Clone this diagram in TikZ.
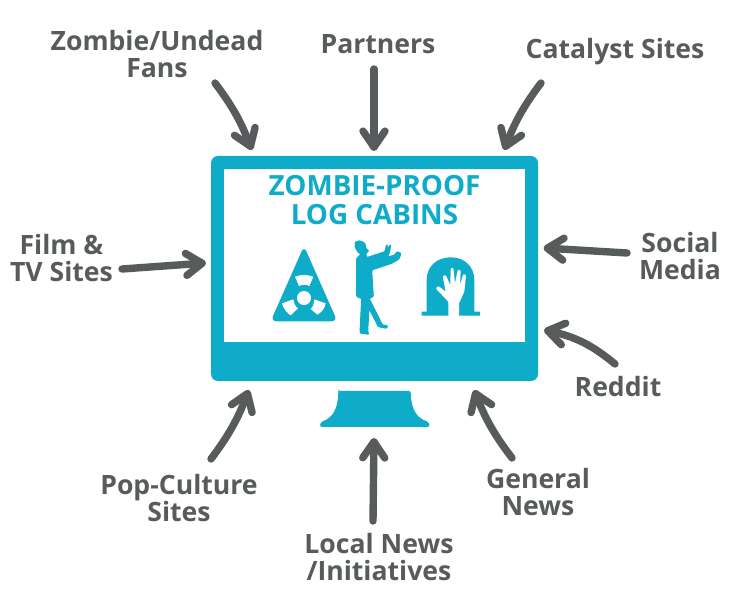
\documentclass[tikz,border=0pt]{standalone}
\usepackage{fontspec}
\setmainfont{Open Sans}
\usetikzlibrary{calc}
\definecolor{screenblue}{HTML}{0FACCA}
\definecolor{feedgray}{HTML}{575B5C}
\pgfarrowsdeclare{barb}{barb}{\pgfarrowsleftextend{-3pt}\pgfarrowsrightextend{3.7pt}}{%
 \pgfsetlinewidth{7.4pt}\pgfsetroundcap\pgfsetroundjoin
 \pgfpathmoveto{\pgfpoint{-16pt}{11pt}}
 \pgfpathlineto{\pgfpointorigin}
 \pgfpathlineto{\pgfpoint{-16pt}{-11pt}}
 \pgfusepathqstroke
}
\tikzset{
  source/.style={text=feedgray, font=\fontsize{26.6}{27}\selectfont\bfseries, align=center, inner sep=0pt},
  feed/.style={draw=feedgray, line width=7.4pt, line cap=round, line join=round, -barb},
  monitor/.style={fill=screenblue, inner sep=0pt},
  headline/.style={text=screenblue, font=\fontsize{27.8}{29}\selectfont\bfseries, align=center, inner sep=0pt}
}
\def\Feed#1#2#3{%
\draw[feed] #1 to[#3] (#2);
}
\begin{document}
\begin{tikzpicture}[x=1pt,y=-1pt]
\useasboundingbox (0,0) rectangle (750,593);
% monitor
\node (Monitor) [monitor, rounded corners=7pt, minimum width=327pt, minimum height=225pt] at (374.5,268.5) {};
\node (Screen) [fill=white, inner sep=0pt, minimum width=301pt, minimum height=173pt] at (374.5,255.5) {};
\fill[screenblue, rounded corners=2pt] (338.3,391) -- (410.7,391) .. controls (411,408) and (416,418) .. (429,422)
  -- (429.5,427) -- (320,427) -- (320.5,422) .. controls (333,418) and (338,408) .. (338.3,391) -- cycle;
\node (Title) [headline] at (374.5,200.5) {ZOMBIE-PROOF\\LOG CABINS};
% icons
\begin{scope}[shift={(260,230)},scale=1/3]
  \fill[screenblue, rounded corners=6pt] (132,48) -- (232,274) -- (32,274) -- cycle;
  \fill[white] (132,204) circle (21);
  \fill[white] (105,140) .. controls (125,133) and (140,133) .. (160,140) -- (148,168) .. controls (140,163) and (125,163) .. (117,168) -- cycle;
  \fill[white] (66,220) -- (100,208) .. controls (102,222) and (108,232) .. (114,235) -- (92,256) .. controls (80,248) and (70,236) .. (66,220) -- cycle;
  \fill[white] (197,220) -- (163,208) .. controls (162,222) and (158,232) .. (152,237) -- (172,254) .. controls (184,248) and (194,236) .. (197,220) -- cycle;
\end{scope}
\begin{scope}[shift={(345,235)},scale=1/3]
  \filldraw[screenblue, line width=1pt, rounded corners=1pt] (30,22) -- (45,17) -- (60,25) -- (62,40) -- (72,48) -- (62,55) -- (65,68)
    -- (120,50) -- (125,28) -- (130,40) -- (137,28) -- (135,45) -- (130,62) -- (100,74)
    -- (150,60) -- (155,50) -- (168,55) -- (162,72) -- (140,85) -- (80,105)
    -- (85,185) -- (72,190) -- (100,245) -- (112,270) -- (128,272) -- (125,280) -- (100,275) -- (72,220)
    -- (68,290) -- (72,298) -- (45,294) -- (50,190) -- (35,185) -- (35,70) -- (48,58) -- (38,50) -- (30,35) -- cycle;
\end{scope}
\begin{scope}[shift={(415,250)},scale=1/3]
  \fill[screenblue] (20,185) -- (35,185) -- (35,90) .. controls (35,50) and (65,22) .. (107,22)
    .. controls (149,22) and (178,50) .. (178,90) -- (178,185) -- (195,185) -- (195,197) -- (20,197) -- cycle;
  \fill[white, rounded corners=1pt] (100,198) -- (100,155) -- (62,115) -- (70,108) -- (92,125) -- (83,78) -- (92,75) -- (106,105)
    -- (107,55) -- (115,53) -- (120,100) -- (128,60) -- (137,60) -- (135,105) -- (145,72) -- (153,75)
    -- (148,125) -- (132,160) -- (132,198) -- cycle;
\end{scope}
% sources
\node (Zombie) [source] at (157,54) {Zombie/Undead\\Fans};
\node (Partners) [source] at (378,44) {Partners};
\node (Catalyst) [source] at (615,51.5) {Catalyst Sites};
\node (Film) [source] at (61.5,258) {Film \&\\TV Sites};
\node (Social) [source] at (680,256) {Social\\Media};
\node (Reddit) [source] at (618,387) {Reddit};
\node (General) [source] at (538,492) {General\\News};
\node (Local) [source] at (379,557) {Local News\\/Initiatives};
\node (Pop) [source] at (179,498) {Pop-Culture\\Sites};
% arrow ends at the monitor
\coordinate (ZombieTip) at ($(Monitor.north west)+(41,-6)$);
\coordinate (PartnersTip) at ($(Monitor.north)+(-0.5,-5)$);
\coordinate (CatalystTip) at ($(Monitor.north east)+(-34,-6)$);
\coordinate (FilmTip) at ($(Monitor.west)+(-5,-5.5)$);
\coordinate (SocialTip) at ($(Monitor.east)+(5.5,-20.5)$);
\coordinate (RedditTip) at ($(Monitor.east)+(6,61.5)$);
\coordinate (GeneralTip) at ($(Monitor.south east)+(-64,9)$);
\coordinate (LocalTip) at ($(Monitor.south)+(-0.5,57)$);
\coordinate (PopTip) at ($(Monitor.south west)+(38,9)$);
\Feed{($(Zombie.center)+(58,29)$)}{ZombieTip}{bend left=8}
\Feed{($(Partners.center)+(-4,25)$)}{PartnersTip}{bend left=0}
\Feed{($(Catalyst.center)+(-74,31.5)$)}{CatalystTip}{bend right=8}
\Feed{($(Film.center)+(60.5,11)$)}{FilmTip}{bend left=0}
\Feed{($(Social.center)+(-53,-3)$)}{SocialTip}{bend left=0}
\Feed{($(Reddit.center)+(-3,-23)$)}{RedditTip}{bend right=14}
\Feed{($(General.center)+(-26,-34)$)}{GeneralTip}{bend left=8}
\Feed{($(Local.center)+(-6,-36)$)}{LocalTip}{bend left=0}
\Feed{($(Pop.center)+(32,-39)$)}{PopTip}{bend right=8}
\end{tikzpicture}
\end{document}
